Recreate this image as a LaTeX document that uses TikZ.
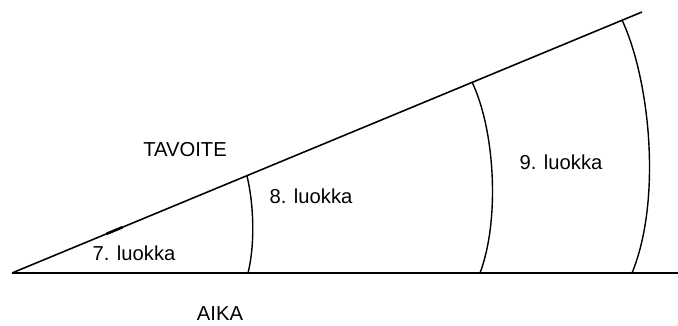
\documentclass[tikz,border=0pt]{standalone}
\usepackage{fontspec}
\setmainfont{Liberation Sans}
\usetikzlibrary{calc,positioning}

\begin{document}
\begin{tikzpicture}[x=0.02cm, y=-0.02cm, line width=0.9pt,
  every node/.style={font=\fontsize{11.5}{13}\selectfont, inner sep=0pt},
  raja/.style={line width=0.8pt}]
\useasboundingbox (0,0) rectangle (678,325);
%----- akselit -----
\coordinate (O) at (12,273);
\coordinate (T) at (642,12);
\coordinate (E) at (678,273);
\draw (O) -- (T);
\draw (O) -- (E);
%----- luokkien rajat (kaaret) -----
\coordinate (a1) at (247,176);   \coordinate (b1) at (248,273);
\coordinate (a2) at (472,82);    \coordinate (b2) at (480,273);
\coordinate (a3) at (622,20);    \coordinate (b3) at (632,273);
\draw[line width=1.5pt] ($(O)!0.15!(T)$) -- ($(O)!0.175!(T)$); % pieni merkki
\draw[raja] (a1) .. controls (254,205) and (255,245) .. (b1);
\draw[raja] (a2) .. controls (495,130) and (500,220) .. (b2);
\draw[raja] (a3) .. controls (650,80) and (662,200) .. (b3);
%----- tekstit -----
\node (tavoite) at (185,150) {TAVOITE};
\node (aika) at (220,314) {AIKA};
\node (l7) at (134,253) {7. luokka};
\node (l8) at (311,196) {8. luokka};
\node (l9) at (561,162) {9. luokka};
\end{tikzpicture}
\end{document}
